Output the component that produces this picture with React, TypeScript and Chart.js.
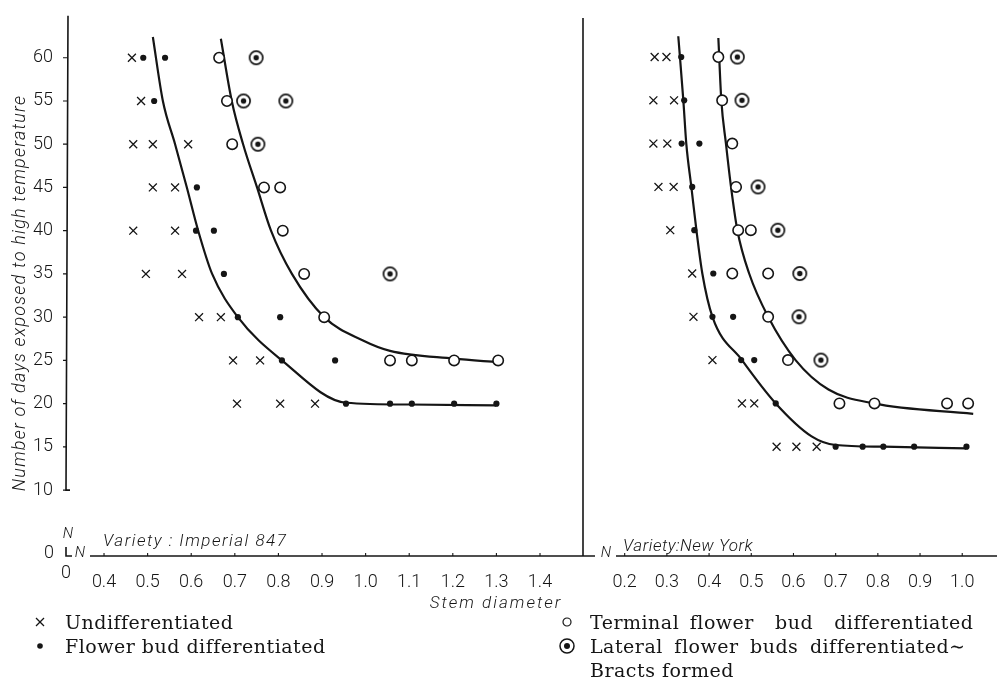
import React, { useEffect, useRef } from "react";
import { Chart, registerables } from "chart.js";

Chart.register(...registerables);

// ---------- data ----------
const yTickValues = [10, 15, 20, 25, 30, 35, 40, 45, 50, 55, 60];
const leftXTicks = [0.4, 0.5, 0.6, 0.7, 0.8, 0.9, 1.0, 1.1, 1.2, 1.3, 1.4];
const rightXTicks = [0.2, 0.3, 0.4, 0.5, 0.6, 0.7, 0.8, 0.9, 1.0];

const leftVarietyLabel = "Variety : Imperial 847";
const rightVarietyLabel = "Variety:New York";
const xAxisTitle = "Stem diameter";
const yAxisTitle = "Number of days exposed to high temperature";

// Variety: Imperial 847
const impUndifferentiated: [number, number][] = [
  [0.464, 60], [0.485, 55], [0.467, 50], [0.512, 50], [0.593, 50],
  [0.512, 45], [0.563, 45], [0.467, 40], [0.563, 40], [0.496, 35],
  [0.579, 35], [0.618, 30], [0.668, 30], [0.696, 25], [0.758, 25],
  [0.705, 20], [0.804, 20], [0.884, 20],
];
const impFlowerBud: [number, number][] = [
  [0.49, 60], [0.54, 60], [0.515, 55], [0.613, 45], [0.611, 40],
  [0.652, 40], [0.675, 35], [0.707, 30], [0.804, 30], [0.808, 25],
  [0.93, 25], [0.955, 20], [1.056, 20], [1.106, 20], [1.203, 20], [1.3, 20],
];
const impTerminal: [number, number][] = [
  [0.664, 60], [0.682, 55], [0.694, 50], [0.767, 45], [0.804, 45],
  [0.81, 40], [0.859, 35], [0.905, 30], [1.056, 25], [1.106, 25],
  [1.203, 25], [1.304, 25],
];
const impLateral: [number, number][] = [
  [0.749, 60], [0.72, 55], [0.817, 55], [0.753, 50], [1.056, 35],
];
const impLowerCurve: [number, number][] = [
  [0.512, 62.4], [0.535, 55], [0.563, 50], [0.59, 45], [0.616, 40],
  [0.648, 35], [0.707, 30], [0.808, 25], [0.955, 20.1], [1.1, 19.9], [1.3, 19.8],
];
const impUpperCurve: [number, number][] = [
  [0.668, 62.2], [0.693, 55], [0.719, 50], [0.751, 45], [0.783, 40],
  [0.831, 35], [0.905, 30], [0.994, 27.3], [1.056, 26.1], [1.203, 25.2], [1.304, 24.8],
];

// Variety: New York
const nyUndifferentiated: [number, number][] = [
  [0.271, 60], [0.299, 60], [0.268, 55], [0.317, 55], [0.268, 50],
  [0.301, 50], [0.28, 45], [0.316, 45], [0.308, 40], [0.36, 35],
  [0.363, 30], [0.408, 25], [0.478, 20], [0.507, 20], [0.56, 15],
  [0.607, 15], [0.655, 15],
];
const nyFlowerBud: [number, number][] = [
  [0.334, 60], [0.341, 55], [0.335, 50], [0.377, 50], [0.36, 45],
  [0.365, 40], [0.41, 35], [0.408, 30], [0.457, 30], [0.476, 25],
  [0.507, 25], [0.558, 20], [0.7, 15], [0.764, 15], [0.813, 15],
  [0.886, 15], [1.01, 15],
];
const nyTerminal: [number, number][] = [
  [0.422, 60], [0.431, 55], [0.455, 50], [0.464, 45], [0.469, 40],
  [0.499, 40], [0.455, 35], [0.54, 35], [0.54, 30], [0.587, 25],
  [0.709, 20], [0.792, 20], [0.964, 20], [1.014, 20],
];
const nyLateral: [number, number][] = [
  [0.467, 60], [0.478, 55], [0.516, 45], [0.563, 40], [0.615, 35],
  [0.613, 30], [0.665, 25],
];
const nyLowerCurve: [number, number][] = [
  [0.327, 62.4], [0.339, 55], [0.346, 50], [0.358, 45], [0.37, 40],
  [0.384, 35], [0.408, 30], [0.478, 25], [0.558, 20], [0.643, 16.2],
  [0.7, 15.2], [0.813, 15], [1.01, 14.8],
];
const nyUpperCurve: [number, number][] = [
  [0.422, 62.2], [0.429, 55], [0.44, 50], [0.452, 45], [0.467, 40],
  [0.495, 35], [0.54, 30], [0.605, 25], [0.683, 21.6], [0.79, 20], [1.026, 18.8],
];

const legendLabels = [
  "Undifferentiated",
  "Flower bud differentiated",
  "Terminal flower  bud  differentiated",
  "Lateral flower buds differentiated∼",
  "Bracts formed",
];

// ---------- styling ----------
const INK = "#151515";
const AXIS_Y = 556; // pixel row of the x axes
const Y_MIN = 2.38;
const Y_MAX = 64.85;
const TICK_FONT = { family: "Roboto", size: 18, weight: "300" as const };
const HAND_FONT = "italic 300 17px Roboto";

function toPts(arr: [number, number][]) {
  return arr.map(([x, y]) => ({ x, y }));
}

function makeLateralSymbol(): HTMLCanvasElement {
  const c = document.createElement("canvas");
  c.width = 17;
  c.height = 17;
  const g = c.getContext("2d")!;
  g.strokeStyle = INK;
  g.lineWidth = 1.7;
  g.fillStyle = "#fff";
  g.beginPath();
  g.arc(8.5, 8.5, 6.6, 0, Math.PI * 2);
  g.fill();
  g.stroke();
  g.fillStyle = INK;
  g.beginPath();
  g.arc(8.5, 8.5, 2.7, 0, Math.PI * 2);
  g.fill();
  return c;
}

function buildDatasets(
  undiff: [number, number][],
  bud: [number, number][],
  terminal: [number, number][],
  lateral: [number, number][],
  lower: [number, number][],
  upper: [number, number][],
  lateralSymbol: HTMLCanvasElement
) {
  const curve = (pts: [number, number][]) => ({
    data: toPts(pts),
    showLine: true,
    borderColor: INK,
    borderWidth: 2.2,
    pointRadius: 0,
    cubicInterpolationMode: "monotone" as const,
    fill: false,
    order: 5,
  });
  return [
    curve(lower),
    curve(upper),
    {
      data: toPts(undiff),
      pointStyle: "crossRot" as const,
      pointRadius: 5.6,
      borderColor: INK,
      borderWidth: 1.3,
      order: 1,
    },
    {
      data: toPts(bud),
      pointStyle: "circle" as const,
      pointRadius: 3.1,
      backgroundColor: INK,
      borderColor: INK,
      borderWidth: 0,
      order: 1,
    },
    {
      data: toPts(terminal),
      pointStyle: "circle" as const,
      pointRadius: 5.2,
      backgroundColor: "#fff",
      borderColor: INK,
      borderWidth: 1.6,
      order: 1,
    },
    {
      data: toPts(lateral),
      pointStyle: lateralSymbol,
      pointRadius: 7,
      order: 1,
    },
  ];
}

function spacedText(ctx: any, text: string, x: number, y: number, spacing: number) {
  ctx.letterSpacing = spacing + "px";
  ctx.fillText(text, x, y);
  ctx.letterSpacing = "0px";
}

const leftDeco = {
  id: "leftDeco",
  afterDraw(chart: any) {
    const { ctx, chartArea, scales } = chart;
    const xs = scales.x;
    const ys = scales.y;
    const left = chartArea.left;
    const bottom = chartArea.bottom;
    const y10 = ys.getPixelForValue(10);
    ctx.save();
    ctx.strokeStyle = INK;
    ctx.fillStyle = INK;
    ctx.lineWidth = 1.6;
    // y axis with hook at 10
    ctx.beginPath();
    ctx.moveTo(left + 2, chartArea.top);
    ctx.lineTo(left, y10);
    ctx.lineTo(left + 4, y10);
    ctx.stroke();
    // y tick marks
    ctx.lineWidth = 1.2;
    ctx.beginPath();
    for (const v of yTickValues) {
      const py = ys.getPixelForValue(v);
      ctx.moveTo(left - 3, py);
      ctx.lineTo(left + 1, py);
    }
    ctx.stroke();
    // corner at origin
    ctx.lineWidth = 1.6;
    ctx.beginPath();
    ctx.moveTo(left, bottom - 9);
    ctx.lineTo(left, bottom);
    ctx.lineTo(left + 6, bottom);
    ctx.stroke();
    // x axis
    ctx.beginPath();
    ctx.moveTo(left + 24, bottom);
    ctx.lineTo(chartArea.right + 12, bottom);
    ctx.stroke();
    ctx.lineWidth = 1.1;
    ctx.beginPath();
    for (const v of leftXTicks) {
      const px = xs.getPixelForValue(v);
      ctx.moveTo(px, bottom);
      ctx.lineTo(px, bottom - 3);
    }
    ctx.stroke();
    // break marks and zero labels
    ctx.font = "italic 300 15px Roboto";
    ctx.textAlign = "center";
    ctx.textBaseline = "middle";
    ctx.fillText("N", left + 2, bottom - 22);
    ctx.fillText("N", left + 14, bottom - 3);
    ctx.font = "300 18px Roboto";
    ctx.fillText("0", left - 17, bottom - 3);
    ctx.fillText("0", left, bottom + 17);
    // variety label
    ctx.font = HAND_FONT;
    ctx.textAlign = "left";
    ctx.textBaseline = "alphabetic";
    spacedText(ctx, leftVarietyLabel, left + 37, bottom - 10, 1.5);
    // x title
    ctx.textAlign = "center";
    spacedText(ctx, xAxisTitle, 496, bottom + 52, 2);
    // y title
    ctx.translate(20, 293);
    ctx.rotate(-Math.PI / 2);
    ctx.textBaseline = "middle";
    ctx.font = "italic 300 18px Roboto";
    spacedText(ctx, yAxisTitle, 0, 0, 1.2);
    ctx.restore();
  },
};

const rightDeco = {
  id: "rightDeco",
  afterDraw(chart: any) {
    const { ctx, chartArea, scales } = chart;
    const xs = scales.x;
    const left = chartArea.left;
    const bottom = chartArea.bottom;
    ctx.save();
    ctx.strokeStyle = INK;
    ctx.fillStyle = INK;
    ctx.lineWidth = 1.6;
    ctx.beginPath();
    ctx.moveTo(left, chartArea.top + 3);
    ctx.lineTo(left, bottom);
    ctx.stroke();
    ctx.beginPath();
    ctx.moveTo(left + 33, bottom);
    ctx.lineTo(chartArea.right, bottom);
    ctx.stroke();
    ctx.lineWidth = 1.1;
    ctx.beginPath();
    for (const v of rightXTicks) {
      const px = xs.getPixelForValue(v);
      ctx.moveTo(px, bottom);
      ctx.lineTo(px, bottom - 3);
    }
    ctx.stroke();
    ctx.font = "italic 300 15px Roboto";
    ctx.textAlign = "center";
    ctx.textBaseline = "middle";
    ctx.fillText("N", left + 23, bottom - 3);
    ctx.font = HAND_FONT;
    ctx.textAlign = "left";
    ctx.textBaseline = "alphabetic";
    spacedText(ctx, rightVarietyLabel, left + 40, bottom - 5, 0.5);
    ctx.restore();
  },
};

function makeOptions(
  xMin: number,
  xMax: number,
  xTicks: number[],
  padding: any,
  showY: boolean
): any {
  return {
    responsive: false,
    animation: false,
    layout: { padding },
    plugins: { legend: { display: false }, tooltip: { enabled: false } },
    scales: {
      x: {
        type: "linear",
        min: xMin,
        max: xMax,
        grid: { display: false },
        border: { display: false },
        afterBuildTicks: (s: any) => {
          s.ticks = xTicks.map((v) => ({ value: v }));
        },
        afterFit: (s: any) => {
          s.height = 693 - AXIS_Y;
        },
        ticks: {
          autoSkip: false,
          maxRotation: 0,
          padding: 8,
          color: INK,
          font: TICK_FONT,
          callback: (v: any) => Number(v).toFixed(1),
        },
      },
      y: {
        type: "linear",
        display: showY,
        min: Y_MIN,
        max: Y_MAX,
        grid: { display: false },
        border: { display: false },
        afterBuildTicks: (s: any) => {
          s.ticks = yTickValues.map((v) => ({ value: v }));
        },
        afterFit: (s: any) => {
          s.width = showY ? 66 : 0;
        },
        ticks: {
          autoSkip: false,
          padding: 5,
          color: INK,
          font: TICK_FONT,
        },
      },
    },
  };
}

function LegendSymbol({ kind }: { kind: string }) {
  const s = 18;
  return (
    <svg width={s} height={s} viewBox="0 0 18 18" style={{ display: "block" }}>
      {kind === "x" && (
        <g stroke={INK} strokeWidth={1.2}>
          <line x1={5} y1={5} x2={13} y2={13} />
          <line x1={13} y1={5} x2={5} y2={13} />
        </g>
      )}
      {kind === "dot" && <circle cx={9} cy={9} r={2.8} fill={INK} />}
      {kind === "open" && (
        <circle cx={9} cy={9} r={4} fill="#fff" stroke={INK} strokeWidth={1.2} />
      )}
      {kind === "lat" && (
        <g>
          <circle cx={9} cy={9} r={7} fill="#fff" stroke={INK} strokeWidth={1.5} />
          <circle cx={9} cy={9} r={3} fill={INK} />
        </g>
      )}
    </svg>
  );
}

export default function App() {
  const leftRef = useRef<HTMLCanvasElement>(null);
  const rightRef = useRef<HTMLCanvasElement>(null);

  useEffect(() => {
    const sym = makeLateralSymbol();
    const left = new Chart(leftRef.current!, {
      type: "scatter",
      data: {
        datasets: buildDatasets(
          impUndifferentiated,
          impFlowerBud,
          impTerminal,
          impLateral,
          impLowerCurve,
          impUpperCurve,
          sym
        ) as any,
      },
      options: makeOptions(0.3128, 1.4986, leftXTicks, { top: 15, right: 17, left: 0, bottom: 0 }, true),
      plugins: [leftDeco],
    });
    const right = new Chart(rightRef.current!, {
      type: "scatter",
      data: {
        datasets: buildDatasets(
          nyUndifferentiated,
          nyFlowerBud,
          nyTerminal,
          nyLateral,
          nyLowerCurve,
          nyUpperCurve,
          sym
        ) as any,
      },
      options: makeOptions(0.1012, 1.0824, rightXTicks, { top: 15, right: 5, left: 23, bottom: 0 }, false),
      plugins: [rightDeco],
    });
    return () => {
      left.destroy();
      right.destroy();
    };
  }, []);

  const textStyle: React.CSSProperties = {
    position: "absolute",
    fontFamily: "'DejaVu Serif', serif",
    fontSize: 19,
    letterSpacing: "0.5px",
    color: INK,
    whiteSpace: "pre",
    lineHeight: "24px",
  };
  const symStyle = (x: number, y: number): React.CSSProperties => ({
    position: "absolute",
    left: x - 9,
    top: y - 9,
  });

  return (
    <div style={{ position: "absolute", left: 0, top: 0, width: 1005, height: 693, background: "#fff", overflow: "hidden" }}>
      <canvas ref={leftRef} width={600} height={693} style={{ position: "absolute", left: 0, top: 0 }} />
      <canvas ref={rightRef} width={445} height={693} style={{ position: "absolute", left: 560, top: 0 }} />
      <div style={symStyle(40, 622)}><LegendSymbol kind="x" /></div>
      <div style={{ ...textStyle, left: 65, top: 610 }}>{legendLabels[0]}</div>
      <div style={symStyle(40, 646)}><LegendSymbol kind="dot" /></div>
      <div style={{ ...textStyle, left: 65, top: 634 }}>{legendLabels[1]}</div>
      <div style={symStyle(567, 622)}><LegendSymbol kind="open" /></div>
      <div style={{ ...textStyle, left: 590, top: 610, wordSpacing: "4px" }}>{legendLabels[2]}</div>
      <div style={symStyle(567, 646)}><LegendSymbol kind="lat" /></div>
      <div style={{ ...textStyle, left: 590, top: 634, wordSpacing: "5px" }}>{legendLabels[3]}</div>
      <div style={{ ...textStyle, left: 590, top: 658 }}>{legendLabels[4]}</div>
    </div>
  );
}
